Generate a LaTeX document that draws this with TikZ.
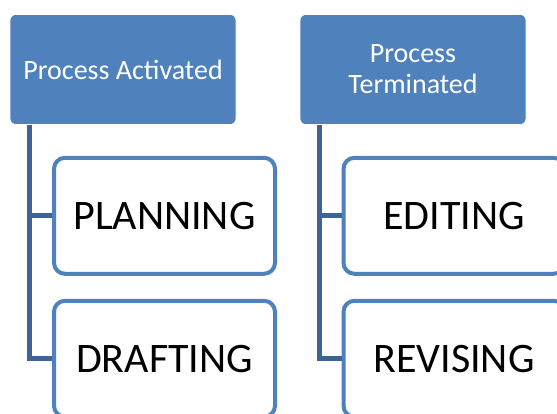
\documentclass[tikz,border=0pt]{standalone}
\usepackage{fontspec}
\setmainfont{Carlito}
\usetikzlibrary{positioning}

\definecolor{accent}{RGB}{79,129,189}
\definecolor{linkblue}{RGB}{62,100,150}

\begin{document}
\begin{tikzpicture}[
        x=1pt, y=-1pt,
        head/.style={rectangle, draw=white, line width=0.6pt, fill=accent, rounded corners=6pt, text=white, minimum width=226pt, minimum height=110pt, align=center, font=\fontsize{28}{31}\selectfont},
        task/.style={rectangle, draw=accent, line width=4pt, fill=white, rounded corners=11pt, minimum width=221pt, minimum height=116pt, align=center, font=\fontsize{42}{48}\selectfont},
        link/.style={draw=linkblue, line width=5pt}
    ]
        \useasboundingbox (0,0) rectangle (557,414);
        \clip (0,0) rectangle (557,414);

        \node[head] (act) at (123,69.5) {Process Activated};
        \node[head] (term) at (413,69.5) {Process\\Terminated};

        \node[task, below=31pt of act, xshift=41.5pt] (plan) {PLANNING};
        \node[task, below=23pt of plan] (draft) {DRAFTING};
        \node[task, below=31pt of term, xshift=41pt] (edit) {EDITING};
        \node[task, below=23pt of edit] (revise) {REVISING};

        % Tree lines
        \draw[link] ([xshift=20pt]act.south west) |- (plan.west);
        \draw[link] ([xshift=20pt]act.south west) |- (draft.west);
        \draw[link] ([xshift=20pt]term.south west) |- (edit.west);
        \draw[link] ([xshift=20pt]term.south west) |- (revise.west);

    \end{tikzpicture}
\end{document}
